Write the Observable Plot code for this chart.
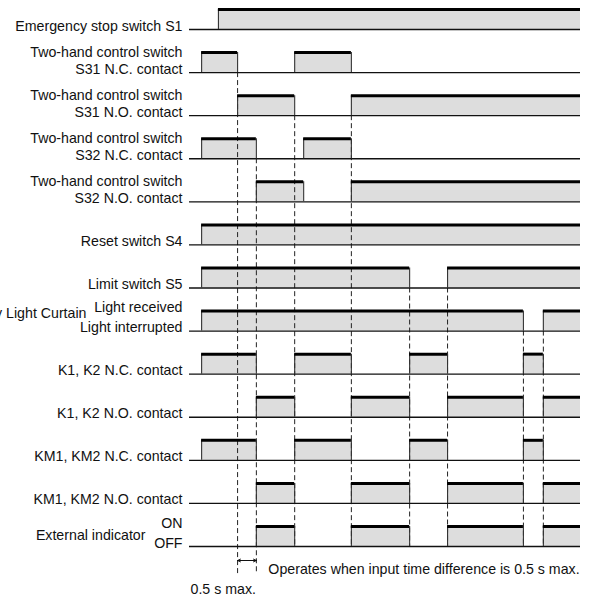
<!DOCTYPE html>
<html><head><meta charset="utf-8">
<script src="https://cdn.jsdelivr.net/npm/d3@7"></script>
<script src="https://cdn.jsdelivr.net/npm/@observablehq/plot@0.6"></script>
<style>body{margin:0;background:#fff} #chart svg{overflow:hidden;display:block}</style>
</head><body><div id="chart"></div><script>
// Row labels (top to bottom)
const labels = [
  "Emergency stop switch S1",
  "Two-hand control switch\nS31 N.C. contact",
  "Two-hand control switch\nS31 N.O. contact",
  "Two-hand control switch\nS32 N.C. contact",
  "Two-hand control switch\nS32 N.O. contact",
  "Reset switch S4",
  "Limit switch S5",
  "Light received\nLight interrupted",
  "K1, K2 N.C. contact",
  "K1, K2 N.O. contact",
  "KM1, KM2 N.C. contact",
  "KM1, KM2 N.O. contact",
  "ON\nOFF"
];
const sideLabels = ["Safety Light Curtain", "External indicator"];
// High (ON) intervals per row, time in arbitrary units 0..100
const intervals = [
  [[7.4, 100]],
  [[3.1, 12.3], [26.9, 41.4]],
  [[12.3, 26.9], [41.4, 100]],
  [[3.1, 17.1], [29.2, 41.4]],
  [[17.1, 29.2], [41.4, 100]],
  [[3.1, 100]],
  [[3.1, 56.3], [66.0, 100]],
  [[3.1, 85.4], [90.5, 100]],
  [[3.1, 17.1], [26.9, 41.4], [56.3, 66.0], [85.4, 90.5]],
  [[17.1, 26.9], [41.4, 56.3], [66.0, 85.4], [90.5, 100]],
  [[3.1, 17.1], [26.9, 41.4], [56.3, 66.0], [85.4, 90.5]],
  [[17.1, 26.9], [41.4, 56.3], [66.0, 85.4], [90.5, 100]],
  [[17.1, 26.9], [41.4, 56.3], [66.0, 85.4], [90.5, 100]]
];
// Dashed guide lines: time, first row, last row
const guideTimes = [12.3, 17.1, 26.9, 41.4, 56.3, 66.0, 85.4, 90.5];
const guideFrom  = [1, 3, 2, 2, 6, 6, 7, 7];
const guideTo    = [12.63, 12.63, 12, 12, 12, 12, 12, 12];
const noteText = "Operates when input time difference is 0.5 s max.";
const maxText = "0.5 s max.";
const arrowSpan = [12.3, 17.1];

const H = 0.465;
const END = 100;
const rowsIdx = labels.map((_, i) => i);
const pulses = intervals.flatMap((iv, row) => iv.map(([s, e]) => ({row, s, e})));
const edges = pulses.flatMap(p => [p.s, p.e].filter(t => t < END).map(t => ({row: p.row, t})));
const guides = guideTimes.map((t, i) => ({t, from: guideFrom[i], to: guideTo[i]}));
const lab = labels.map((text, row) => ({row, text}));
const normal = lab.filter(d => d.row !== 7 && d.row !== 12);
const wide = lab.filter(d => d.row === 7 || d.row === 12);
const mid = (arrowSpan[0] + arrowSpan[1]) / 2;
const arrows = [{a: mid, b: arrowSpan[0]}, {a: mid, b: arrowSpan[1]}];

const chart = Plot.plot({
  width: 589, height: 597, marginLeft: 189, marginRight: 9,
  x: {domain: [0, END], axis: null},
  y: {domain: [0, 12], range: [29, 546], axis: null},
  style: {fontFamily: "'Liberation Sans', Arial, Helvetica, sans-serif", fontSize: "14.2px", color: "#111", background: "#fff"},
  marks: [
    Plot.rect(pulses, {x1: "s", x2: "e", y1: "row", y2: d => d.row - H, fill: "#dddddd"}),
    Plot.ruleX(guides, {x: "t", y1: "from", y2: "to", stroke: "#222", strokeWidth: 1, strokeDasharray: "5,3"}),
    Plot.ruleY(rowsIdx, {y: d => d, x1: 0, x2: END, stroke: "#111", strokeWidth: 1.4}),
    Plot.ruleX(edges, {x: "t", y1: "row", y2: d => d.row - H, stroke: "#333", strokeWidth: 1.1}),
    Plot.ruleY(pulses, {y: d => d.row - H, x1: "s", x2: "e", stroke: "#000", strokeWidth: 3}),
    Plot.text(normal, {x: 0, y: "row", text: "text", textAnchor: "end", lineAnchor: "bottom", lineHeight: 1.2, dx: -7, dy: 1, fill: "#111"}),
    Plot.text(wide, {x: 0, y: "row", text: "text", textAnchor: "end", lineAnchor: "bottom", lineHeight: 1.4, dx: -7, dy: 1, fill: "#111"}),
    Plot.text([sideLabels[0]], {x: 0, y: 7, text: d => d, textAnchor: "end", lineAnchor: "bottom", dx: -103, dy: -13.5, fill: "#111"}),
    Plot.text([sideLabels[1]], {x: 0, y: 12, text: d => d, textAnchor: "end", lineAnchor: "bottom", dx: -44, dy: -6.5, fill: "#111"}),
    Plot.text([noteText], {x: arrowSpan[1], y: 12, text: d => d, textAnchor: "start", lineAnchor: "bottom", dx: 12, dy: 27.5, fill: "#111"}),
    Plot.text([maxText], {x: 0, y: 12, text: d => d, textAnchor: "start", lineAnchor: "bottom", dx: 1, dy: 47.5, fill: "#111"}),
    Plot.arrow(arrows, {x1: "a", x2: "b", y1: 12, y2: 12, dy: 14, stroke: "#111", strokeWidth: 1, headLength: 5, headAngle: 50, inset: 0})
  ]
});
document.getElementById("chart").appendChild(chart);
</script></body></html>
